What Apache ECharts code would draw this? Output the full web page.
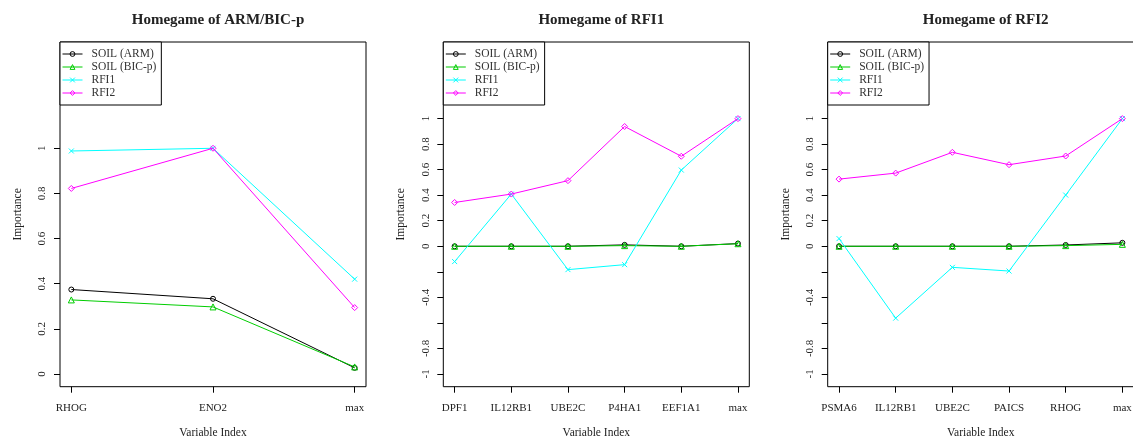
<!DOCTYPE html>
<html><head><meta charset="utf-8">
<script src="https://cdn.jsdelivr.net/npm/echarts@6/dist/echarts.min.js"></script>
<style>html,body{margin:0;padding:0;background:#fff}#c{width:1133px;height:439px}</style>
</head><body><div id="c"></div>
<script>
const seriesNames = ['SOIL (ARM)', 'SOIL (BIC-p)', 'RFI1', 'RFI2'];
const titles = ['Homegame of ARM/BIC-p', 'Homegame of RFI1', 'Homegame of RFI2'];

const cats1 = ['RHOG', 'ENO2', 'max'];
const arm1 = [0.374, 0.333, 0.027];
const bic1 = [0.328, 0.297, 0.031];
const rfiA1 = [0.988, 1.0, 0.42];
const rfiB1 = [0.822, 1.0, 0.294];

const cats2 = ['DPF1', 'IL12RB1', 'UBE2C', 'P4HA1', 'EEF1A1', 'max'];
const arm2 = [0, 0, 0, 0.011, 0, 0.021];
const bic2 = [0, 0, 0, 0.005, 0, 0.02];
const rfiA2 = [-0.12, 0.409, -0.183, -0.144, 0.597, 1.0];
const rfiB2 = [0.343, 0.409, 0.514, 0.938, 0.705, 1.0];

const cats3 = ['PSMA6', 'IL12RB1', 'UBE2C', 'PAICS', 'RHOG', 'max'];
const arm3 = [0, 0, 0, 0, 0.01, 0.027];
const bic3 = [0, 0, 0, 0, 0.005, 0.015];
const rfiA3 = [0.06, -0.563, -0.165, -0.194, 0.401, 1.0];
const rfiB3 = [0.526, 0.573, 0.736, 0.639, 0.707, 1.0];

const yTicks1 = [0, 0.2, 0.4, 0.6, 0.8, 1];
const yLabels1 = [0, 0.2, 0.4, 0.6, 0.8, 1];
const yTicks23 = [-1, -0.8, -0.6, -0.4, -0.2, 0, 0.2, 0.4, 0.6, 0.8, 1];
const yLabels23 = [-1, -0.8, -0.4, 0, 0.2, 0.4, 0.6, 0.8, 1];

const panels = [
  {cats: cats1, data: [arm1, bic1, rfiA1, rfiB1], ylim: [-0.0566, 1.471], ticks: yTicks1, labels: yLabels1, left: 60},
  {cats: cats2, data: [arm2, bic2, rfiA2, rfiB2], ylim: [-1.1, 1.6], ticks: yTicks23, labels: yLabels23, left: 443.3},
  {cats: cats3, data: [arm3, bic3, rfiA3, rfiB3], ylim: [-1.1, 1.6], ticks: yTicks23, labels: yLabels23, left: 827.7}
];

const colors = ['#000000', '#00CD00', '#00FFFF', '#FF00FF'];
const symbols = ['circle', 'triangle', 'path://M0,0L10,10M10,0L0,10', 'diamond'];
const symSizes = [5, 6, 5, 6];
const FONT = '"Liberation Serif", "DejaVu Serif", serif';
const W = 306, TOP = 42, H = 344.7;

const grid = [], xAxis = [], yAxis = [], series = [], title = [], legend = [];
panels.forEach((p, gi) => {
  const n = p.cats.length;
  const ext = 0.04 * (n - 1);
  grid.push({left: p.left, top: TOP, width: W, height: H, show: true, borderColor: '#000', borderWidth: 1,
             backgroundColor: 'transparent', containLabel: false, outerBoundsMode: 'none'});
  const xt = p.cats.map((c, i) => i + 1);
  xAxis.push({
    type: 'value', gridIndex: gi, min: 1 - ext, max: n + ext, position: 'bottom',
    splitLine: {show: false}, axisLine: {show: false, onZero: false},
    axisTick: {show: true, length: 6, customValues: xt, lineStyle: {color: '#000'}},
    axisLabel: {customValues: xt, formatter: v => p.cats[Math.round(v) - 1], color: '#222', fontFamily: FONT, fontSize: 11, margin: 16},
    name: 'Variable Index', nameLocation: 'middle', nameGap: 40,
    nameTextStyle: {fontFamily: FONT, fontSize: 11.5, color: '#222'}
  });
  yAxis.push({
    type: 'value', gridIndex: gi, min: p.ylim[0], max: p.ylim[1], position: 'left',
    splitLine: {show: false}, axisLine: {show: false, onZero: false},
    axisTick: {show: true, length: 6, customValues: p.ticks, lineStyle: {color: '#000'}},
    axisLabel: {customValues: p.labels, rotate: 90, formatter: v => String(Math.round(v * 10) / 10), color: '#222', fontFamily: FONT, fontSize: 11, margin: 12},
    name: 'Importance', nameLocation: 'middle', nameGap: 36,
    nameTextStyle: {fontFamily: FONT, fontSize: 11.5, color: '#222'}
  });
  title.push({
    text: titles[gi], left: p.left + W / 2, top: 8, textAlign: 'center',
    textStyle: {fontFamily: FONT, fontSize: 15, fontWeight: 'bold', color: '#222'}
  });
  legend.push({
    left: p.left, top: TOP, orient: 'vertical', data: seriesNames,
    itemWidth: 20, itemHeight: 6, itemGap: 1, padding: [6, 5, 6, 2],
    borderColor: '#000', borderWidth: 1, backgroundColor: '#fff', borderRadius: 0,
    itemStyle: {color: 'rgba(255,255,255,0)', borderColor: 'inherit', borderWidth: 1},
    lineStyle: {width: 1},
    textStyle: {fontFamily: FONT, fontSize: 11.5, color: '#333', padding: [0, 0, 0, 4]},
    selectedMode: false
  });
  p.data.forEach((vals, si) => {
    series.push({
      type: 'line', name: seriesNames[si], xAxisIndex: gi, yAxisIndex: gi,
      data: vals.map((v, i) => [i + 1, v]),
      symbol: symbols[si], symbolSize: symSizes[si], showSymbol: true,
      lineStyle: {color: colors[si], width: 1},
      itemStyle: {color: 'rgba(255,255,255,0)', borderColor: colors[si], borderWidth: 1},
      color: colors[si],
      z: 2 + si, silent: true
    });
  });
});

const chart = echarts.init(document.getElementById('c'), null, {renderer: 'canvas'});
chart.setOption({animation: false, title, legend, grid, xAxis, yAxis, series});
</script></body></html>
